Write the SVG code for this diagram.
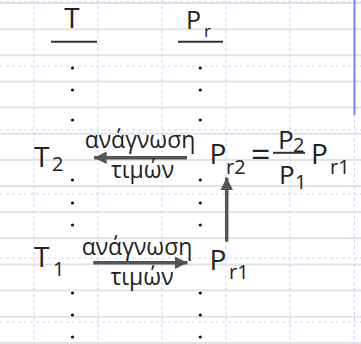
<svg xmlns="http://www.w3.org/2000/svg" width="361" height="344" viewBox="0 0 361 344">
  <defs>
    <marker id="head" viewBox="0 0 10 10" refX="10" refY="5" markerWidth="3.8" markerHeight="3.6" orient="auto" markerUnits="strokeWidth">
      <path d="M0,0 L10,5 L0,10 z" fill="#555"/>
    </marker>
  </defs>
  <style>
    .t { font-family: "Open Sans", "Noto Sans", sans-serif; fill: #222; }
    .big { font-size: 28px; }
    .sub { font-size: 20px; }
    .lbl { font-size: 23px; text-anchor: middle; }
    .rule { stroke: #e3e3e3; stroke-width: 2; }
    .dash { stroke: #c9d3f6; stroke-width: 1; stroke-dasharray: 3 3; }
    .arrow { stroke: #555; stroke-width: 3.5; fill: none; marker-end: url(#head); }
    .bar { stroke: #333; stroke-width: 2; }
    .dot { fill: #111; }
  </style>

  <!-- ruled paper background -->
  <rect width="361" height="344" fill="#fff"/>
  <g id="paper">
    <line class="rule" x1="0" y1="3" x2="361" y2="3"/>
    <line class="rule" x1="0" y1="29.2" x2="361" y2="29.2"/>
    <line class="rule" x1="0" y1="55.3" x2="361" y2="55.3"/>
    <line class="rule" x1="0" y1="81.5" x2="361" y2="81.5"/>
    <line class="rule" x1="0" y1="107.6" x2="361" y2="107.6"/>
    <line class="rule" x1="0" y1="133.8" x2="361" y2="133.8"/>
    <line class="rule" x1="0" y1="159.9" x2="361" y2="159.9"/>
    <line class="rule" x1="0" y1="186" x2="361" y2="186"/>
    <line class="rule" x1="0" y1="212.2" x2="361" y2="212.2"/>
    <line class="rule" x1="0" y1="238.3" x2="361" y2="238.3"/>
    <line class="rule" x1="0" y1="264.5" x2="361" y2="264.5"/>
    <line class="rule" x1="0" y1="290.6" x2="361" y2="290.6"/>
    <line class="rule" x1="0" y1="316.8" x2="361" y2="316.8"/>
    <line class="rule" x1="0" y1="343" x2="361" y2="343"/>
    <line class="dash" x1="0" y1="2" x2="361" y2="2"/>
    <line class="dash" x1="0" y1="66" x2="361" y2="66"/>
    <line class="dash" x1="0" y1="130" x2="361" y2="130"/>
    <line class="dash" x1="0" y1="194" x2="361" y2="194"/>
    <line class="dash" x1="0" y1="258" x2="361" y2="258"/>
    <line class="dash" x1="0" y1="322" x2="361" y2="322"/>
    <line class="dash" x1="34" y1="0" x2="34" y2="344"/>
    <line class="dash" x1="98" y1="0" x2="98" y2="344"/>
    <line class="dash" x1="162" y1="0" x2="162" y2="344"/>
    <line class="dash" x1="226" y1="0" x2="226" y2="344"/>
    <line class="dash" x1="290" y1="0" x2="290" y2="344"/>
    <line class="dash" x1="354.5" y1="0" x2="354.5" y2="344"/>
    <line x1="354.5" y1="0" x2="354.5" y2="115" stroke="#6f86ee" stroke-width="2"/>
  </g>

  <!-- column headers -->
  <g id="head-T">
    <text class="t" x="72" y="27.5" font-size="28" text-anchor="middle">T</text>
    <line class="bar" x1="51" y1="41.7" x2="97" y2="41.7"/>
  </g>
  <g id="head-Pr">
    <text class="t" x="186" y="29" font-size="25">P<tspan x="204" y="36.5" font-size="17">r</tspan></text>
    <line class="bar" x1="178" y1="41.7" x2="223" y2="41.7"/>
  </g>

  <!-- dotted columns -->
  <g id="dots">
    <circle class="dot" cx="72.5" cy="68" r="1.6"/>
    <circle class="dot" cx="72.5" cy="90" r="1.6"/>
    <circle class="dot" cx="72.5" cy="120" r="1.6"/>
    <circle class="dot" cx="72.5" cy="180" r="1.6"/>
    <circle class="dot" cx="72.5" cy="203" r="1.6"/>
    <circle class="dot" cx="72.5" cy="225" r="1.6"/>
    <circle class="dot" cx="72.5" cy="293" r="1.6"/>
    <circle class="dot" cx="72.5" cy="315" r="1.6"/>
    <circle class="dot" cx="72.5" cy="337" r="1.6"/>
    <circle class="dot" cx="200.3" cy="68" r="1.6"/>
    <circle class="dot" cx="200.3" cy="90" r="1.6"/>
    <circle class="dot" cx="200.3" cy="120" r="1.6"/>
    <circle class="dot" cx="200.3" cy="180" r="1.6"/>
    <circle class="dot" cx="200.3" cy="203" r="1.6"/>
    <circle class="dot" cx="200.3" cy="225" r="1.6"/>
    <circle class="dot" cx="200.3" cy="293" r="1.6"/>
    <circle class="dot" cx="200.3" cy="315" r="1.6"/>
    <circle class="dot" cx="200.3" cy="337" r="1.6"/>
  </g>

  <!-- state 2 -->
  <g id="T2">
    <text class="t big" x="34" y="167">T<tspan class="sub" x="52" y="171">2</tspan></text>
  </g>
  <g id="Pr2">
    <text class="t big" x="209.5" y="164">P<tspan class="sub" x="226" y="174">r2</tspan></text>
    <text class="t" x="251" y="167" font-size="34">=</text>
    <text class="t" x="278" y="149" font-size="26">P<tspan class="sub" x="293" y="152">2</tspan></text>
    <line class="bar" x1="273" y1="152.8" x2="305" y2="152.8"/>
    <text class="t" x="279" y="184" font-size="26">P<tspan class="sub" x="295" y="189">1</tspan></text>
    <text class="t big" x="311" y="164">P<tspan class="sub" x="330" y="174">r1</tspan></text>
  </g>

  <!-- state 1 -->
  <g id="T1">
    <text class="t big" x="34" y="267">T<tspan class="sub" x="53" y="276">1</tspan></text>
  </g>
  <g id="Pr1">
    <text class="t big" x="209.5" y="270">P<tspan class="sub" x="229" y="279">r1</tspan></text>
  </g>

  <!-- transitions -->
  <g id="connectors">
    <line class="arrow" x1="187" y1="157.7" x2="94" y2="157.7"/>
    <line class="arrow" x1="93.3" y1="262.7" x2="187.5" y2="262.7"/>
    <line class="arrow" x1="226.7" y1="241.7" x2="226.7" y2="177.5"/>
  </g>
  <g id="labels">
    <text class="t lbl" x="140" y="148">ανάγνωση</text>
    <text class="t lbl" x="142.5" y="178">τιμών</text>
    <text class="t lbl" x="137" y="255">ανάγνωση</text>
    <text class="t lbl" x="142" y="285">τιμών</text>
  </g>
</svg>
